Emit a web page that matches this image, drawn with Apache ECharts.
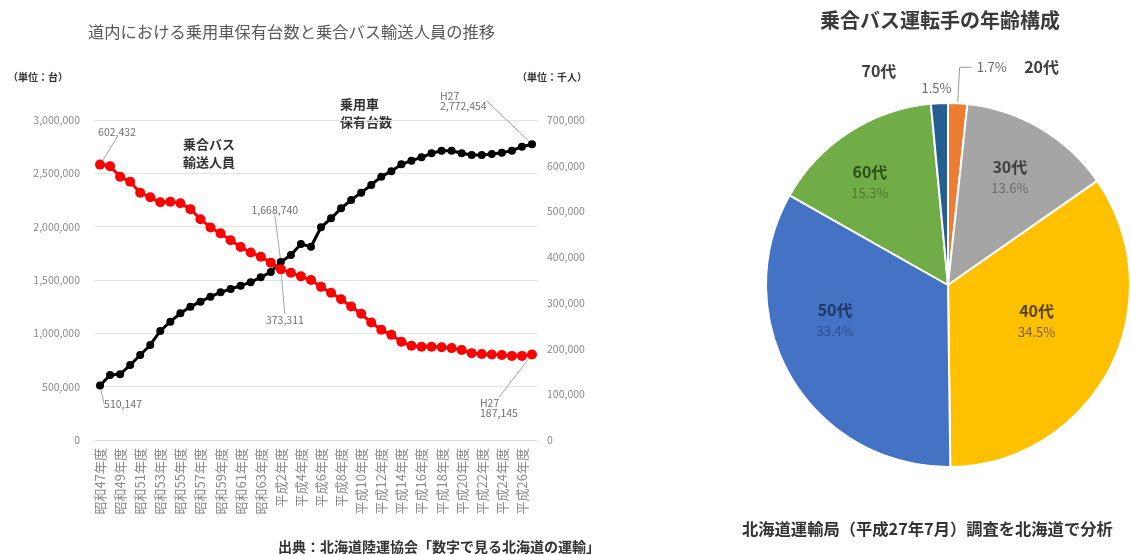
<!DOCTYPE html>
<html><head><meta charset="utf-8">
<script src="https://cdn.jsdelivr.net/npm/echarts@6/dist/echarts.min.js"></script>
<style>html,body{margin:0;padding:0;background:#fff}#c{width:1131px;height:555px}</style>
</head><body><div id="c"></div>
<script>
// ---- data ----
const years = ['昭和47年度','昭和48年度','昭和49年度','昭和50年度','昭和51年度','昭和52年度','昭和53年度','昭和54年度','昭和55年度','昭和56年度','昭和57年度','昭和58年度','昭和59年度','昭和60年度','昭和61年度','昭和62年度','昭和63年度','平成元年度','平成2年度','平成3年度','平成4年度','平成5年度','平成6年度','平成7年度','平成8年度','平成9年度','平成10年度','平成11年度','平成12年度','平成13年度','平成14年度','平成15年度','平成16年度','平成17年度','平成18年度','平成19年度','平成20年度','平成21年度','平成22年度','平成23年度','平成24年度','平成25年度','平成26年度','平成27年度'];
const cars = [510147,609000,616000,703000,797000,891000,1022000,1109000,1188000,1250000,1297000,1344000,1384000,1416000,1446000,1480000,1525000,1575000,1668740,1734000,1837000,1812000,1994000,2078000,2172000,2250000,2319000,2391000,2469000,2520000,2584000,2619000,2650000,2688000,2712000,2712000,2688000,2672000,2672000,2681000,2694000,2712000,2750000,2772454];
const bus = [602432,599000,576000,565000,541000,531000,520000,521000,518000,505000,483000,465000,452000,437000,422000,410000,401000,388000,373311,366000,358000,350000,335000,322000,308000,292000,276000,257000,241000,230000,215000,206000,204000,204000,203000,201000,197000,190000,188000,187000,186000,184000,184000,187145];
const leftTicks = {min:0, max:3000000, interval:500000};
const rightTicks = {min:0, max:700000, interval:100000};
const ages = ['20代','30代','40代','50代','60代','70代'];
const agePct = [1.7,13.6,34.5,33.4,15.3,1.5];

// ---- styling / layout ----
const fmt = v => v.toLocaleString('en-US');
const carNotes = {0:{pos:'bottom',dx:23,dy:4,align:'center'},18:{pos:'top',dx:-6,dy:-38,align:'center'},43:{pos:'top',dx:-92,dy:-24,align:'left',prefix:'H27\n'}};
const busNotes = {0:{pos:'top',dx:17,dy:-17,align:'center'},18:{pos:'bottom',dx:4,dy:35,align:'center'},43:{pos:'bottom',dx:-52,dy:33,align:'left',prefix:'H27\n'}};
function withNotes(arr, notes){
  return arr.map((v,i)=>{
    const n = notes[i];
    if(!n) return v;
    return {value:v, label:{show:true, position:n.pos, align:n.align, formatter:(n.prefix||'')+fmt(v)}};
  });
}
function layoutFor(notes){
  return p => { const n = notes[p.dataIndex]; return n ? {dx:n.dx, dy:n.dy} : {}; };
}
const pieStyle = [
  {color:'#ED7D31', out:true},
  {color:'#A5A5A5', off:[14,-28], nc:'#404040', pc:'#6a6a6a'},
  {color:'#FFC000', off:[5,-8], nc:'#5a4500', pc:'#7a6020'},
  {color:'#4472C4', off:[-32,-14], nc:'#1f3864', pc:'#2f4f8f'},
  {color:'#70AD47', off:[-27,-25], nc:'#2f4f1a', pc:'#4e7a30'},
  {color:'#255E91', out:true}
];
const pieData = ages.map((a,i)=>{
  const s = pieStyle[i];
  const d = {name:a, value:agePct[i], itemStyle:{color:s.color}};
  if(s.out){
    if(i===0){
      d.label = {position:'outside', formatter:'{p|'+agePct[i].toFixed(1)+'%}      {n|'+a+'}'};
      d.labelLine = {show:true, length:36, length2:12, lineStyle:{color:'#9a9a9a', width:1}};
    } else {
      d.label = {position:'outside', width:90, formatter:'{n|'+a+'}\n{p|'+agePct[i].toFixed(1)+'%}', rich:{n:{align:'left',fontSize:16,fontWeight:'bold',color:'#404040',lineHeight:18},p:{align:'right',fontSize:13,color:'#6a6a6a',lineHeight:16}}};
      d.labelLine = {show:false, length:20, length2:2};
    }
  } else {
    d.label = {position:'inside', offset:s.off, formatter:'{n|'+a+'}\n{p|'+agePct[i].toFixed(1)+'%}',
      rich:{n:{fontSize:16,fontWeight:'bold',color:s.nc,lineHeight:24},p:{fontSize:13,color:s.pc,lineHeight:18}}};
  }
  return d;
});

const chart = echarts.init(document.getElementById('c'), null, {renderer:'canvas'});
const txt = (x,y,t,st) => ({type:'text', left:x, top:y, style:Object.assign({text:t, fill:'#404040', font:'12px "Noto Sans CJK JP"'}, st||{})});
chart.setOption({
  animation:false,
  textStyle:{fontFamily:'"Noto Sans CJK JP", "Noto Sans", sans-serif'},
  grid:{left:95, right:594, top:120, bottom:115},
  xAxis:{type:'category', data:years, boundaryGap:true,
    axisLine:{show:true, lineStyle:{color:'#d9d9d9'}}, axisTick:{show:false},
    axisLabel:{interval:1, rotate:90, fontSize:13, color:'#8a8a8a', margin:8}},
  yAxis:[
    {type:'value', min:leftTicks.min, max:leftTicks.max, interval:leftTicks.interval,
     axisLine:{show:false}, axisTick:{show:false},
     axisLabel:{fontSize:10.5, color:'#8a8a8a', margin:15, formatter:v=>fmt(v)},
     splitLine:{lineStyle:{color:'#e3e3e3', width:1}}},
    {type:'value', min:rightTicks.min, max:rightTicks.max, interval:rightTicks.interval,
     axisLine:{show:false}, axisTick:{show:false}, splitLine:{show:false},
     axisLabel:{fontSize:10.5, color:'#8a8a8a', margin:10, formatter:v=>fmt(v)}}
  ],
  series:[
    {name:'乗用車保有台数', type:'line', yAxisIndex:0, data:withNotes(cars, carNotes),
     symbol:'circle', symbolSize:8, showAllSymbol:true,
     lineStyle:{color:'#000', width:3}, itemStyle:{color:'#000'},
     label:{show:false, fontSize:10.5, color:'#707070'},
     labelLine:{show:true, lineStyle:{color:'#a6a6a6', width:1}},
     labelLayout:layoutFor(carNotes)},
    {name:'乗合バス輸送人員', type:'line', yAxisIndex:1, data:withNotes(bus, busNotes),
     symbol:'circle', symbolSize:10, showAllSymbol:true,
     lineStyle:{color:'#FF0000', width:3}, itemStyle:{color:'#FF0000'},
     label:{show:false, fontSize:10.5, color:'#707070'},
     labelLine:{show:true, lineStyle:{color:'#a6a6a6', width:1}},
     labelLayout:layoutFor(busNotes)},
    {name:'年齢構成', type:'pie', center:[948,285], radius:182, startAngle:90, clockwise:true,
     avoidLabelOverlap:false, data:pieData,
     itemStyle:{borderColor:'#fff', borderWidth:2},
     label:{fontSize:13, rich:{n:{fontSize:16,fontWeight:'bold',color:'#404040'},p:{fontSize:13,color:'#6a6a6a'}}},
     labelLayout:p => p.dataIndex===5 ? {dx:20, dy:-4} : {},
     emphasis:{disabled:true}}
  ],
  graphic:[
    txt(88,24,'道内における乗用車保有台数と乗合バス輸送人員の推移',{font:'16.3px "Noto Sans CJK JP"', fill:'#5a5a5a'}),
    txt(8,72,'（単位：台）',{font:'bold 10px "Noto Sans CJK JP"', fill:'#333'}),
    txt(517,72,'（単位：千人）',{font:'bold 10px "Noto Sans CJK JP"', fill:'#333'}),
    txt(340,95,'乗用車\n保有台数',{font:'bold 13px "Noto Sans CJK JP"', fill:'#333', lineHeight:18}),
    txt(183,135,'乗合バス\n輸送人員',{font:'bold 13px "Noto Sans CJK JP"', fill:'#333', lineHeight:18}),
    txt(278,540,'出典：北海道陸運協会「数字で見る北海道の運輸」',{font:'bold 14px "Noto Sans CJK JP"', fill:'#333'}),
    txt(820,10,'乗合バス運転手の年齢構成',{font:'bold 20px "Noto Sans CJK JP"', fill:'#3a3a3a'}),
    txt(742,521,'北海道運輸局（平成27年7月）調査を北海道で分析',{font:'bold 16.3px "Noto Sans CJK JP"', fill:'#333'})
  ]
});
</script></body></html>
